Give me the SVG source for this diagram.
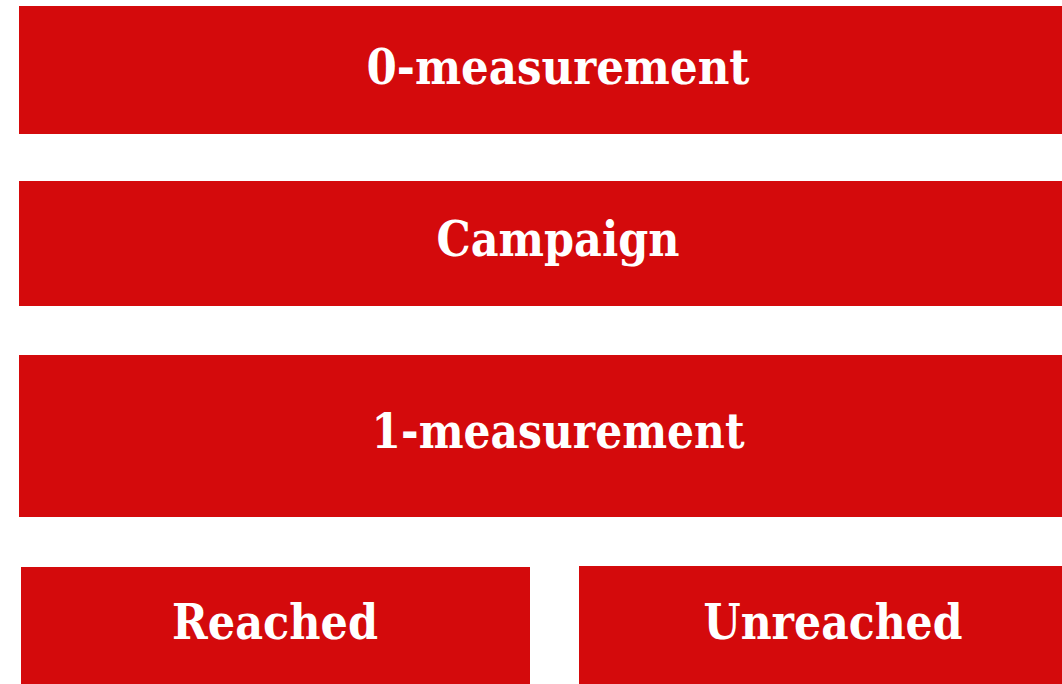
<svg xmlns="http://www.w3.org/2000/svg" width="1062" height="684" viewBox="0 0 1062 684">
<style>
.box{fill:#d40a0c}
.lbl{fill:#fff;font-family:"DejaVu Serif","Liberation Serif",serif;font-weight:bold;font-size:48px;text-anchor:middle}
</style>
<rect width="1062" height="684" fill="#fff"/>
<g id="node-0-measurement"><rect class="box" x="19" y="6" width="1043" height="128"/><text class="lbl" x="558" y="84" textLength="383" lengthAdjust="spacingAndGlyphs">0-measurement</text></g>
<g id="node-campaign"><rect class="box" x="19" y="181" width="1043" height="125"/><text class="lbl" x="558" y="256" textLength="243" lengthAdjust="spacingAndGlyphs">Campaign</text></g>
<g id="node-1-measurement"><rect class="box" x="19" y="355" width="1043" height="162"/><text class="lbl" x="558" y="448" textLength="373" lengthAdjust="spacingAndGlyphs">1-measurement</text></g>
<g id="node-reached"><rect class="box" x="21" y="567" width="509" height="117"/><text class="lbl" x="275" y="639" textLength="206" lengthAdjust="spacingAndGlyphs">Reached</text></g>
<g id="node-unreached"><rect class="box" x="579" y="566" width="483" height="118"/><text class="lbl" x="833" y="639" textLength="259" lengthAdjust="spacingAndGlyphs">Unreached</text></g>
<g id="connectors"></g>
</svg>
